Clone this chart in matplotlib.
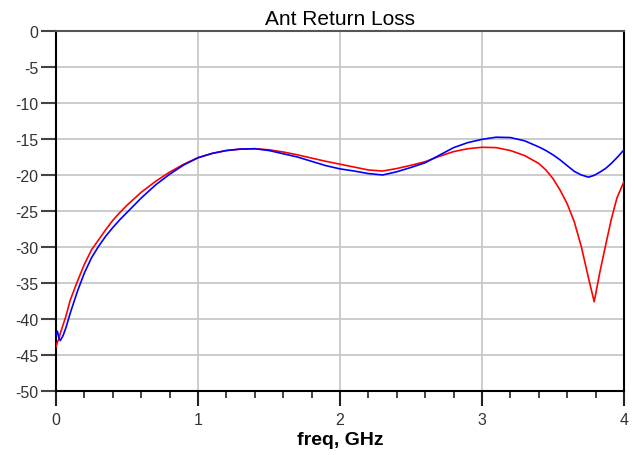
import matplotlib
matplotlib.use("Agg")
import matplotlib.pyplot as plt
from matplotlib.ticker import MultipleLocator

plt.rcParams['font.family'] = ['Liberation Sans', 'DejaVu Sans']
plt.rcParams['axes.unicode_minus'] = False

title = "Ant Return Loss"
xlabel = "freq, GHz"

freq = [0, 0.01, 0.02, 0.03, 0.05, 0.07, 0.1, 0.15, 0.2, 0.25, 0.3, 0.35,
        0.4, 0.45, 0.5, 0.6, 0.7, 0.8, 0.9, 1.0, 1.1, 1.2, 1.3, 1.4, 1.5,
        1.6, 1.7, 1.8, 1.9, 2.0, 2.1, 2.2, 2.3, 2.4, 2.5, 2.6, 2.7, 2.8, 2.9,
        3.0, 3.1, 3.2, 3.3, 3.4, 3.45, 3.5, 3.55, 3.6, 3.65, 3.7, 3.75, 3.79,
        3.83, 3.87, 3.91, 3.95, 4.0]

s11_red = [-43.9, -43.2, -42.8, -42.0, -40.8, -39.6, -37.4, -34.8, -32.4,
           -30.4, -29.0, -27.6, -26.3, -25.2, -24.2, -22.4, -20.9, -19.6,
           -18.5, -17.6, -17.0, -16.6, -16.4, -16.35, -16.5, -16.8, -17.2,
           -17.65, -18.1, -18.5, -18.9, -19.3, -19.45, -19.1, -18.65, -18.15,
           -17.4, -16.75, -16.35, -16.15, -16.2, -16.6, -17.3, -18.4, -19.3,
           -20.5, -22.1, -24.0, -26.5, -30.0, -34.3, -37.6, -33.5, -29.8,
           -26.2, -23.2, -20.9]

s11_blue = [-42.3, -41.7, -42.6, -43.0, -42.3, -41.2, -39.2, -36.2, -33.6,
            -31.5, -29.9, -28.5, -27.3, -26.2, -25.2, -23.2, -21.4, -19.9,
            -18.6, -17.6, -17.0, -16.6, -16.4, -16.35, -16.6, -17.05, -17.5,
            -18.1, -18.7, -19.15, -19.45, -19.8, -20.0, -19.55, -18.95,
            -18.3, -17.25, -16.2, -15.5, -15.05, -14.75, -14.8, -15.25,
            -16.1, -16.6, -17.2, -17.9, -18.7, -19.5, -20.0, -20.3, -20.05,
            -19.6, -19.1, -18.4, -17.6, -16.5]

fig = plt.figure(figsize=(6.34, 4.56), dpi=100)
ax = fig.add_axes([56/634, 1-392/456, (624-56)/634, (392-32)/456])

ax.plot(freq, s11_red, color='#ff0000', lw=1.2, zorder=3)
ax.plot(freq, s11_blue, color='#0000ff', lw=1.2, zorder=4)

ax.set_xlim(0, 4)
ax.set_ylim(-50, 0)
ax.xaxis.set_major_locator(MultipleLocator(1))
ax.xaxis.set_minor_locator(MultipleLocator(0.2))
ax.yaxis.set_major_locator(MultipleLocator(5))

ax.grid(True, which='major', color='#c8c8c8', lw=1.3)
ax.set_axisbelow(True)

ax.tick_params(axis='x', which='major', length=11, width=1.5, color='#222222',
               labelsize=11.5, labelcolor='#333333', pad=4)
ax.tick_params(axis='x', which='minor', length=5, width=1.2, color='#222222')
ax.tick_params(axis='y', which='major', length=11, width=1.5, color='#444444',
               labelsize=11.5, labelcolor='#333333', pad=1.5)

for side in ['left', 'bottom', 'right']:
    ax.spines[side].set_color('black')
    ax.spines[side].set_linewidth(1.5)
ax.spines['top'].set_color('#555555')
ax.spines['top'].set_linewidth(1.5)

ax.set_title(title, fontsize=15, pad=5)
ax.set_xlabel(xlabel, fontsize=14, fontweight='bold', labelpad=3)

fig.savefig('out.png', dpi=100)
